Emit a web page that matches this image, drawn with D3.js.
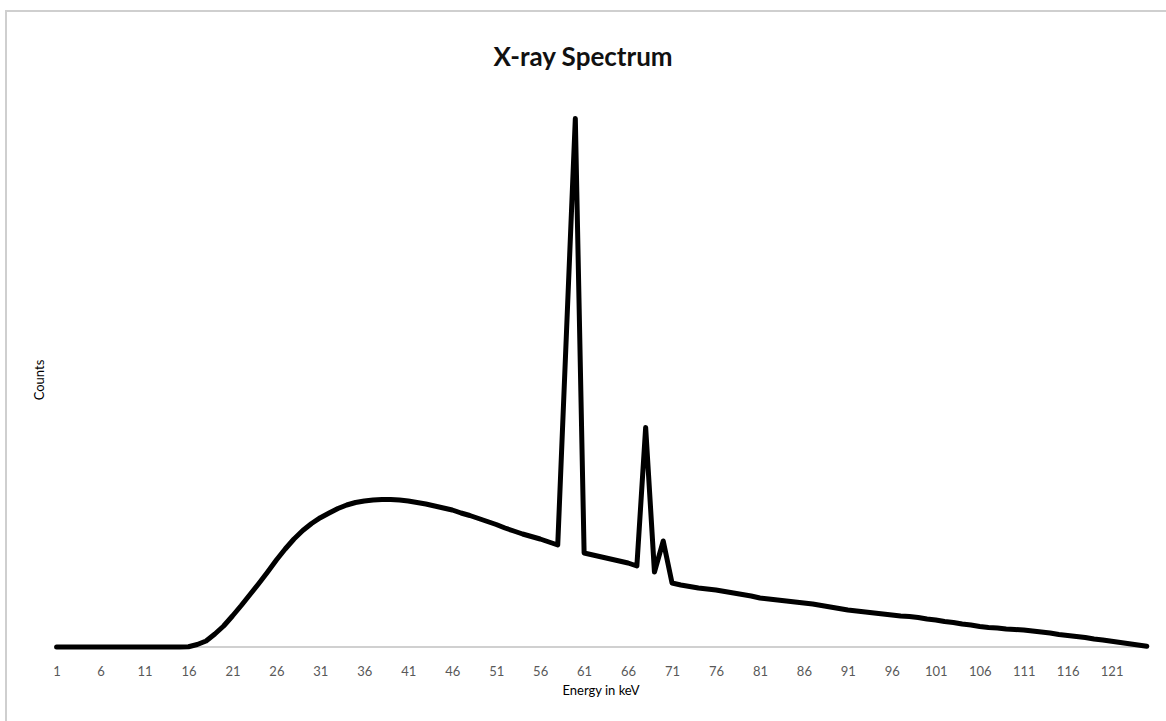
<!DOCTYPE html>
<html>
<head>
<meta charset="utf-8">
<script src="https://cdn.jsdelivr.net/npm/d3@7"></script>
<style>
  body { margin: 0; background: #fff; }
  svg { display: block; }
  text { font-family: Lato, "Open Sans", sans-serif; }
</style>
</head>
<body>
<div id="chart"></div>
<script>
// ---------- data ----------
var energies = d3.range(1, 126);   // keV categories 1..125
var counts = [
  0, 0, 0, 0, 0, 0, 0, 0, 0, 0,                                   // 1-10
  0, 0, 0, 0, 0, 6, 50, 120, 260, 420,                            // 11-20
  620, 830, 1050, 1270, 1500, 1740, 1960, 2160, 2330, 2470,       // 21-30
  2586, 2680, 2770, 2840, 2890, 2920, 2940, 2950, 2950, 2940,     // 31-40
  2920, 2890, 2860, 2820, 2780, 2740, 2680, 2630, 2570, 2510,     // 41-50
  2450, 2380, 2320, 2260, 2210, 2160, 2100, 2040, 6320, 10570,    // 51-60
  1880, 1840, 1800, 1760, 1720, 1680, 1620, 4390, 1500, 2120,     // 61-70
  1280, 1240, 1210, 1180, 1160, 1140, 1110, 1080, 1050, 1020,     // 71-80
  980, 960, 940, 920, 900, 880, 860, 830, 800, 770,               // 81-90
  740, 720, 700, 680, 660, 640, 620, 610, 590, 560,               // 91-100
  540, 510, 490, 460, 440, 410, 390, 380, 360, 350,               // 101-110
  340, 320, 300, 280, 250, 230, 210, 190, 160, 140,               // 111-120
  114, 90, 64, 40, 14                                             // 121-125
];
var labelEvery = 5;
var chartTitle = "X-ray Spectrum";
var xTitle = "Energy in keV";
var yTitle = "Counts";

var spectrum = energies.map(function(e, i) { return {keV: e, count: counts[i]}; });

// ---------- view ----------
var width = 1166, height = 721;
var svg = d3.select("#chart").append("svg")
    .attr("width", width)
    .attr("height", height);

// frame of the chart area (runs off right and bottom)
svg.append("rect")
    .attr("x", 6)
    .attr("y", 11)
    .attr("width", width + 20)
    .attr("height", height + 20)
    .style("fill", "#fff")
    .style("stroke", "#cfcfcf")
    .style("stroke-width", 2);

var x_scale = d3.scalePoint()
    .domain(energies)
    .range([56.6, 1146.8]);

var y_scale = d3.scaleLinear()
    .domain([0, 12000])
    .range([647, 47]);

// x axis: gray line, labels every 5th category, no tick marks
var xAxis = d3.axisBottom(x_scale)
    .tickValues(energies.filter(function(d) { return (d - 1) % labelEvery == 0; }))
    .tickSize(0)
    .tickPadding(20);

var gx = svg.append("g")
    .attr("transform", "translate(0," + y_scale(0) + ")")
    .call(xAxis);
gx.select(".domain")
    .attr("d", "M54.5,0H1148.5")
    .style("stroke", "#d0d0d0")
    .style("stroke-width", 2);
gx.selectAll("text")
    .style("font-family", "Lato, 'Open Sans', sans-serif")
    .style("font-size", "13px")
    .style("fill", "#595959");

// the spectrum line
var line = d3.line()
    .x(function(d) { return x_scale(d.keV); })
    .y(function(d) { return y_scale(d.count); });

svg.append("path")
    .datum(spectrum)
    .attr("d", line)
    .style("fill", "none")
    .style("stroke", "#000")
    .style("stroke-width", 5)
    .style("stroke-linejoin", "round")
    .style("stroke-linecap", "round");

// ---------- titles ----------
svg.append("text")
    .attr("x", 583)
    .attr("y", 66)
    .attr("text-anchor", "middle")
    .style("font-size", "26px")
    .style("font-weight", "bold")
    .style("fill", "#111")
    .text(chartTitle);

svg.append("text")
    .attr("x", 601)
    .attr("y", 695)
    .attr("text-anchor", "middle")
    .style("font-size", "13px")
    .style("fill", "#000")
    .text(xTitle);

svg.append("text")
    .attr("transform", "translate(44,380) rotate(-90)")
    .attr("text-anchor", "middle")
    .style("font-size", "13px")
    .style("fill", "#000")
    .text(yTitle);
</script>
</body>
</html>
